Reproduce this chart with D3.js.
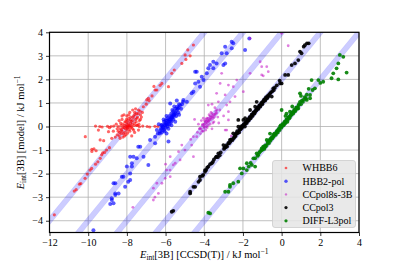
<!DOCTYPE html>
<html><head><meta charset="utf-8">
<script src="https://cdn.jsdelivr.net/npm/d3@7/dist/d3.min.js"></script>
<style>body{margin:0;background:#fff}svg{display:block}text{font-family:"Liberation Serif","Times New Roman",serif;fill:#000}</style>
</head><body><svg id="c" width="399" height="266"></svg>
<script>
const xTicks = [-12,-10,-8,-6,-4,-2,0,2,4];
const yTicks = [-4,-3,-2,-1,0,1,2,3,4];
const seriesNames = ["WHBB6","HBB2-pol","CCpol8s-3B","CCpol3","DIFF-L3pol"];
const bandOffsets = [8,6,4,2,0];
const bandHalfWidth = 0.18;

const whbb6 = [[-11.75,-3.75],[-10.72,-2.74],[-10.62,-2.68],[-10.45,-2.45],[-10.38,-2.42],[-10.16,-2.2],[-10.05,-2.02],[-9.9,-1.85],[-9.82,-1.78],[-9.62,-1.6],[-9.5,-1.5],[-9.38,-1.35],[-9.3,-1.2],[-9.25,-1.12],[-9.15,-1.1],[-9.05,-1.0],[-8.9,-0.9],
[-10.15,-0.43],[-9.81,-0.97],[-9.59,-1.03],[-9.81,-1.06],[-9.47,-0.15],[-9.38,-0.57],[-8.95,-0.22],[-8.78,-0.5],[-9.7,-0.95],[-9.2,-0.6],
[-9.62,0.02],[-9.4,0],[-9.28,-0.02],[-9.0,0.01],[-8.82,0],[-7.18,0.02],[-6.95,0],[-6.82,-0.02],[-6.55,0.01],[-6.4,0.0],[-7.35,-0.01],[-8.68,0.02],
[-8.6,-0.45],[-8.5,-0.35],[-8.45,-0.2],[-8.4,-0.4],[-8.35,-0.1],[-8.3,-0.3],[-8.3,0.05],[-8.25,-0.2],[-8.2,0.1],[-8.2,-0.45],[-8.15,-0.05],[-8.1,0.2],[-8.1,-0.25],[-8.05,0.0],[-8.0,0.1],[-8.0,-0.15],[-7.95,0.25],[-7.95,-0.05],[-7.9,0.05],[-7.9,0.35],[-7.85,-0.2],[-7.8,0.15],[-7.8,0.4],[-7.75,0.0],[-7.7,0.25],[-7.7,-0.1],[-7.65,0.45],[-7.6,0.15],[-7.55,0.3],[-7.5,0.55],[-7.5,0.05],[-7.45,0.4],[-7.4,0.7],[-7.35,0.25],[-7.3,0.5],[-7.2,0.6],[-7.15,0.84],[-8.55,0.1],[-8.4,0.25],[-8.25,0.3],[-8.0,0.45],[-7.85,0.6],[-7.6,-0.25],[-7.4,-0.15],[-8.7,-0.2],[-8.05,-0.35],[-7.75,-0.4],[-8.15,0.5],[-7.55,0.75],[-8.9,-0.05],
[-8.35,-0.5],[-8.28,-0.15],[-8.18,-0.3],[-8.12,0.05],[-8.08,-0.1],[-8.02,0.3],[-7.98,0.02],[-7.92,0.15],[-7.88,-0.12],[-7.82,0.28],[-7.78,-0.05],[-7.72,0.1],[-7.68,0.38],[-7.62,0.05],[-7.58,0.5],[-7.52,0.2],[-7.48,0.35],[-7.42,0.55],[-7.38,0.1],[-7.32,0.65],[-7.25,0.4],[-8.45,0.0],[-8.38,-0.25],[-8.32,0.15],[-8.22,-0.05],[-8.12,-0.4],[-7.96,-0.28],[-7.85,0.05],[-7.65,-0.15],[-7.6,0.6],[-7.45,0.05],[-8.05,0.2],[-7.9,0.5],[-8.5,-0.1],[-7.7,0.7],[-7.3,0.3],[-8.25,0.45],[-7.78,0.22],[-8.0,-0.05],[-7.88,0.0],
[-6.97,1.13],[-6.85,1.1],[-6.89,1.2],[-6.7,1.3],[-6.54,1.55],[-6.45,1.55],[-6.28,1.75],[-6.19,1.83],[-5.85,1.69],[-5.68,2.26],[-5.55,2.4],[-5.16,2.68],[-4.99,3.04],[-4.95,2.85],[-4.85,3.25],[-4.73,3.0],[-4.56,3.46],[-7.0,0.95],[-6.6,1.7]];

const hbb2pol = [[-9.73,-4.4],[-8.86,-3.29],[-8.78,-3.12],[-8.78,-3.05],[-8.69,-3.26],[-8.6,-2.91],[-8.6,-2.84],[-8.69,-2.41],[-8.43,-2.84],[-8.6,-2.41],[-8.26,-2.13],[-8.18,-2.13],[-8.09,-2.56],[-7.93,-2.35],[-7.83,-2.27],[-8.0,-1.7],[-7.83,-1.99],[-7.74,-1.7],[-7.74,-1.56],[-7.66,-1.28],[-7.83,-1.28],[-7.49,-1.35],[-7.41,-0.86],[-7.31,-0.86],[-7.14,-1.28],[-6.89,-1.63],[-6.8,-0.57],[-6.54,-0.71],[-6.54,-0.43],[-5.85,-0.64],[-6.45,-0.15],[-6.19,0.06],
[-6.3,-0.3],[-6.25,-0.1],[-6.2,-0.25],[-6.15,0.0],[-6.1,-0.15],[-6.05,0.1],[-6.0,-0.05],[-6.0,0.25],[-5.95,0.1],[-5.9,0.35],[-5.9,0.0],[-5.85,0.2],[-5.8,0.45],[-5.8,0.1],[-5.75,0.3],[-5.7,0.55],[-5.7,0.2],[-5.65,0.4],[-5.6,0.65],[-5.6,0.3],[-5.55,0.5],[-5.5,0.75],[-5.45,0.45],[-5.4,0.84],[-5.35,0.6],[-5.3,0.95],[-5.2,0.75],[-5.1,1.05],[-6.35,0.1],[-6.1,0.3],[-5.95,-0.3],[-5.5,0.2],[-5.76,0.98],[-5.42,1.1],
[-6.28,-0.2],[-6.22,0.05],[-6.12,-0.05],[-6.08,0.2],[-6.02,0.05],[-5.98,0.15],[-5.92,0.25],[-5.88,0.12],[-5.82,0.3],[-5.78,0.22],[-5.72,0.4],[-5.68,0.35],[-5.62,0.5],[-5.58,0.45],[-5.52,0.6],[-5.48,0.55],[-5.42,0.7],[-5.38,0.75],[-5.32,0.8],[-5.25,0.9],[-5.15,0.95],[-6.18,-0.1],[-5.95,0.45],[-5.7,0.05],[-5.55,0.85],[-5.85,-0.1],[-6.4,-0.3],[-5.65,0.7],[-6.05,-0.2],[-5.3,0.5],
[-5.08,1.13],[-4.9,1.05],[-4.65,1.41],[-4.56,1.48],[-4.47,1.83],[-4.3,1.9],[-4.22,1.69],[-4.13,2.11],[-4.04,1.97],[-3.87,2.26],[-4.47,2.33],[-4.39,2.33],[-3.79,2.47],[-3.7,2.61],[-3.53,2.47],[-3.53,2.75],[-3.36,2.68],[-3.1,3.11],[-3.01,2.61],[-2.92,2.68],[-2.84,3.11],[-2.92,3.39],[-2.58,3.32],[-2.58,3.6],[-2.5,3.53],[-1.89,3.25],[-1.67,3.74]];

const ccpol8s = [[-7.69,-3.43],[-6.63,-3.12],[-6.55,-3.0],[-6.37,-2.84],[-6.63,-2.62],[-6.45,-2.41],[-6.19,-2.41],[-6.02,-2.2],[-5.76,-2.13],[-5.94,-1.85],[-5.77,-1.85],[-5.6,-1.63],[-5.5,-1.56],[-5.76,-1.28],[-5.25,-1.42],[-5.33,-1.07],[-5.0,-1.0],[-5.16,-0.79],[-4.65,-0.79],[-4.56,-1.28],[-4.56,-0.43],[-4.39,-0.43],[-4.22,-0.08],[-4.7,-0.55],[-6.0,-1.6],
[-4.2,-0.3],[-4.15,-0.1],[-4.1,0.05],[-4.05,-0.2],[-4.0,0.1],[-4.0,-0.05],[-3.95,0.2],[-3.9,0.0],[-3.9,0.3],[-3.85,0.15],[-3.8,0.35],[-3.8,0.05],[-3.75,0.25],[-3.7,0.45],[-3.7,0.1],[-3.65,0.3],[-3.6,0.55],[-3.55,0.35],[-3.5,0.2],[-3.45,0.5],[-3.4,0.65],[-3.36,0.57],[-3.3,0.4],[-3.87,0.35],[-4.05,0.35],[-3.6,-0.1],[-4.3,0.1],[-3.25,0.15],[-3.2,0.7],
[-4.12,-0.2],[-4.08,0.1],[-4.02,0.0],[-3.98,0.25],[-3.92,0.12],[-3.88,0.22],[-3.82,0.25],[-3.78,0.2],[-3.72,0.3],[-3.68,0.38],[-3.62,0.4],[-3.58,0.45],[-3.52,0.5],[-3.48,0.4],[-3.42,0.55],[-3.35,0.7],[-3.92,-0.15],[-3.75,0.5],[-3.55,0.15],[-4.25,-0.1],[-4.35,-0.25],[-3.85,-0.05],[-3.65,0.6],[-3.45,0.8],[-4.15,0.25],
[-2.92,-0.15],[-2.84,-0.15],[-2.75,0.28],[-2.75,0.63],[-3.27,1.05],[-2.67,1.05],[-2.84,0.91],[-3.79,0.91],[-3.6,0.95],[-3.36,1.41],[-2.92,1.34],[-3.18,1.83],[-2.75,1.76],[-3.1,2.26],[-2.41,1.27],[-2.5,1.69],[-1.98,1.48],[-2.32,1.97],[-1.63,2.26],[-1.03,2.19],[-0.95,2.15],[-0.69,2.33],[-1.03,2.54],[-0.77,2.54],[-1.11,2.75],[0.34,3.43],[0.0,3.96],[-1.63,3.74],[-3.0,0.45],[-4.5,0.3],[-2.6,-0.4]];

const ccpol3 = [[-5.68,-3.62],[-5.6,-3.58],[-4.73,-2.84],[-4.73,-2.77],[-4.56,-2.56],[-4.47,-2.56],[-4.3,-2.35],[-4.22,-2.27],[-4.22,-2.13],[-4.05,-2.05],[-3.96,-1.92],[-3.96,-1.85],[-3.85,-1.75],[-3.79,-1.7],[-3.7,-1.6],[-3.61,-1.56],[-3.5,-1.4],[-3.4,-1.3],[-3.36,-1.28],[-3.27,-1.14],[-3.15,-1.1],[-3.01,-0.79],[-2.95,-0.9],[-2.84,-0.79],[-2.75,-0.7],[-2.67,-0.57],[-2.6,-0.55],[-2.5,-0.29],[-2.45,-0.45],[-2.4,-0.35],[-2.35,-0.3],[-2.3,-0.2],[-2.24,-0.01],[-2.24,0.28],[-2.2,-0.25],[-2.15,-0.1],[-2.1,0.0],[-2.05,-0.05],[-2.0,0.05],[-1.95,0.1],[-1.98,0.28],[-1.9,0.0],[-1.89,0.35],[-1.85,0.2],[-1.8,0.15],[-1.75,0.3],[-1.7,0.25],[-1.65,0.4],[-1.63,0.7],[-1.6,0.35],[-1.55,0.5],[-1.5,0.45],[-1.45,0.6],[-1.37,0.84],[-1.4,0.55],[-1.35,0.65],[-1.29,1.05],[-1.3,0.7],[-1.25,0.8],[-1.2,0.75],[-1.15,0.9],[-1.1,0.85],[-1.05,1.0],[-1.0,0.95],[-0.95,1.05],[-0.9,1.15],[-0.85,1.1],[-0.8,1.25],[-0.75,1.2],[-0.69,1.27],[-0.6,1.4],[-0.51,1.27],[-0.43,1.62],[-0.4,1.55],[-0.08,1.83],[0.0,1.83],[-0.1,1.95],[0.18,2.19],[0.34,2.19],[0.52,2.61],[0.69,2.68],[0.86,2.82],[0.95,3.18],[1.03,3.11],[1.14,3.39],[1.31,3.53],[1.4,3.53],[1.2,3.45],
[-2.98,-0.95],[-2.9,-0.88],[-2.82,-0.85],[-2.72,-0.72],[-2.65,-0.65],[-2.55,-0.58],[-2.48,-0.5],[-2.42,-0.42],[-2.38,-0.4],[-2.32,-0.3],[-2.28,-0.28],[-2.18,-0.15],[-2.12,-0.12],[-2.08,-0.05],[-2.02,0.0],[-1.97,0.05],[-1.92,0.1],[-1.88,0.12],[-1.82,0.2],[-1.78,0.22],[-1.72,0.3],[-1.68,0.32],[-1.62,0.4],[-1.58,0.42],[-1.52,0.5],[-1.48,0.52],[-1.42,0.6],[-1.38,0.62],[-1.32,0.7],[-1.28,0.72],[-1.22,0.8],[-1.18,0.82],[-1.12,0.9],[-1.08,0.92],[-1.02,0.98],[-0.98,1.05],[-0.92,1.1],[-0.88,1.12],[-0.82,1.2],[-0.72,1.3],[-0.65,1.35],[-0.55,1.45],[-0.48,1.5],[-0.35,1.65],[-0.25,1.75],[-3.2,-1.22],[-3.3,-1.3],[-3.55,-1.5],[-3.9,-1.85],[-4.1,-2.1]];

const diffL3pol = [[-3.79,-3.66],[-3.7,-3.69],[-2.92,-2.77],[-2.75,-2.77],[-2.67,-2.56],[-2.67,-2.48],[-2.5,-2.41],[-2.24,-2.34],[-2.15,-1.78],[-2.06,-1.99],[-1.98,-1.78],[-1.8,-1.85],[-1.8,-1.56],[-1.54,-1.63],[-1.46,-1.35],[-1.37,-1.7],[-1.37,-1.35],[-1.29,-1.14],[-1.2,-1.2],[-1.1,-1.05],[-1.03,-0.93],[-1.03,-1.0],[-0.95,-0.85],[-0.9,-0.95],[-0.85,-0.8],[-0.77,-0.79],[-0.77,-0.57],[-0.7,-0.65],[-0.65,-0.7],[-0.6,-0.55],[-0.55,-0.5],[-0.5,-0.45],[-0.43,-0.43],[-0.43,-0.36],[-0.38,-0.3],[-0.3,-0.35],[-0.25,-0.2],[-0.2,-0.25],[-0.15,-0.1],[-0.1,-0.15],[-0.08,-0.01],[-0.05,0.05],[0.0,0.0],[0.0,0.7],[0.05,0.1],[0.1,0.05],[0.15,0.2],[0.2,0.15],[0.25,0.3],[0.3,0.2],[0.35,0.4],[0.4,0.35],[0.43,0.63],[0.45,0.45],[0.5,0.5],[0.55,0.6],[0.6,0.55],[0.65,0.7],[0.7,0.65],[0.75,0.8],[0.8,0.75],[0.86,0.77],[0.9,0.95],[0.95,1.05],[0.95,1.41],[1.0,0.95],[1.05,1.1],[1.1,1.05],[1.2,1.25],[1.3,1.13],[1.3,1.35],[1.47,1.2],[1.47,1.34],[1.55,1.97],[1.6,1.55],[1.72,1.62],[1.9,1.97],[2.0,1.85],[2.15,1.9],[2.58,2.05],[2.67,2.26],[2.84,2.47],[2.93,2.0],[2.93,2.68],[3.01,3.04],[3.19,2.96],[3.36,2.29],[0.2,0.45],[-0.6,-0.3],[1.4,1.6],
[-0.98,-0.98],[-0.92,-0.9],[-0.88,-0.88],[-0.82,-0.85],[-0.72,-0.7],[-0.68,-0.62],[-0.58,-0.6],[-0.52,-0.52],[-0.48,-0.5],[-0.4,-0.4],[-0.35,-0.32],[-0.28,-0.28],[-0.22,-0.2],[-0.18,-0.15],[-0.12,-0.1],[-0.02,-0.05],[0.02,0.02],[0.08,0.1],[0.12,0.1],[0.18,0.2],[0.22,0.22],[0.28,0.3],[0.32,0.3],[0.38,0.4],[0.42,0.4],[0.48,0.5],[0.52,0.52],[0.58,0.6],[0.62,0.62],[0.68,0.7],[0.72,0.72],[0.78,0.8],[0.82,0.8],[0.88,0.9],[1.15,1.15],[1.25,1.2],[-1.15,-1.1],[-1.25,-1.25],[-1.6,-1.55],[-1.7,-1.7],[0.55,0.85],[0.25,0.55],[1.0,1.3]];

const seriesData = [whbb6, hbb2pol, ccpol8s, ccpol3, diffL3pol];
const seriesColors = ["#ff0000","#0000ff","#bf00bf","#000000","#008000"];
const seriesOpacity = [0.6, 0.65, 0.5, 0.9, 0.9];
const seriesRadius = [1.6, 2.0, 1.4, 1.9, 1.9];

const svg = d3.select("#c");
const L = 49.5, R = 359, T = 32.3, B = 232.5;
const x = d3.scaleLinear().domain([-12, 4]).range([L, R]);
const y = d3.scaleLinear().domain([-4.5, 4]).range([B, T]);

svg.append("defs").append("clipPath").attr("id","clip").append("rect")
  .attr("x",L).attr("y",T).attr("width",R-L).attr("height",B-T);

// grid
const grid = svg.append("g");
grid.selectAll("line.gx").data(xTicks).join("line")
  .attr("x1",d=>x(d)).attr("x2",d=>x(d)).attr("y1",T).attr("y2",B)
  .attr("stroke","#b0b0b0").attr("stroke-width",0.8);
grid.selectAll("line.gy").data(yTicks).join("line")
  .attr("y1",d=>y(d)).attr("y2",d=>y(d)).attr("x1",L).attr("x2",R)
  .attr("stroke","#b0b0b0").attr("stroke-width",0.8);

const plot = svg.append("g").attr("clip-path","url(#clip)");
// bands
const xs = [-13, 5];
bandOffsets.forEach(o => {
  const area = d3.area().x(d=>x(d)).y0(d=>y(d+o-bandHalfWidth)).y1(d=>y(d+o+bandHalfWidth));
  plot.append("path").datum(xs).attr("d", area)
    .attr("fill","rgba(0,0,255,0.2)").attr("stroke","rgba(0,0,255,0.12)").attr("stroke-width",0.6);
});
// points
seriesData.forEach((data,i) => {
  plot.append("g").selectAll("circle").data(data).join("circle")
    .attr("cx",d=>x(d[0])).attr("cy",d=>y(d[1])).attr("r",seriesRadius[i])
    .attr("fill",seriesColors[i]).attr("fill-opacity",seriesOpacity[i]);
});

// axes
const xAxis = svg.append("g").attr("transform",`translate(0,${B})`)
  .call(d3.axisBottom(x).tickValues(xTicks).tickSize(3.5).tickPadding(3).tickFormat(d=>d<0?"\u2212"+Math.abs(d):d));
const yAxis = svg.append("g").attr("transform",`translate(${L},0)`)
  .call(d3.axisLeft(y).tickValues(yTicks).tickSize(3.5).tickPadding(3).tickFormat(d=>d<0?"\u2212"+Math.abs(d):d));
[xAxis,yAxis].forEach(a=>{
  a.select(".domain").remove();
  a.selectAll("text").attr("font-family","Liberation Serif, serif").attr("font-size",10).attr("fill","#000");
  a.selectAll("line").attr("stroke","#000").attr("stroke-width",0.8);
});
svg.append("rect").attr("x",L).attr("y",T).attr("width",R-L).attr("height",B-T)
  .attr("fill","none").attr("stroke","#000").attr("stroke-width",1.2);

// axis labels
function label(g, text2) {
  const t = g.append("text").attr("font-size",10.5);
  t.append("tspan").attr("font-style","italic").text("E");
  t.append("tspan").attr("font-size",7.5).attr("dy",2).text("int");
  t.append("tspan").attr("dy",-2).text(text2);
  t.append("tspan").attr("font-size",7.5).attr("dy",-4).text("\u22121");
  return t;
}
const xl = label(svg.append("g").attr("transform",`translate(${(L+R)/2},258)`), "[3B] [CCSD(T)] / kJ mol");
xl.attr("text-anchor","middle");
const yl = label(svg.append("g").attr("transform",`translate(24,${(T+B)/2}) rotate(-90)`), "[3B] [model] / kJ mol");
yl.attr("text-anchor","middle");

// legend
const lg = svg.append("g").attr("transform","translate(272.5,160.5)");
lg.append("rect").attr("width",83).attr("height",67).attr("rx",2.5)
  .attr("fill","#e5e5e5").attr("fill-opacity",0.85).attr("stroke","#cccccc").attr("stroke-width",0.8);
seriesNames.forEach((n,i)=>{
  const yy = 7.5 + i*13.2;
  lg.append("circle").attr("cx",13.5).attr("cy",yy).attr("r",seriesRadius[i]*0.85)
    .attr("fill",seriesColors[i]).attr("fill-opacity",seriesOpacity[i]);
  lg.append("text").attr("x",30).attr("y",yy+3.4).attr("font-size",10).text(n);
});
</script></body></html>
